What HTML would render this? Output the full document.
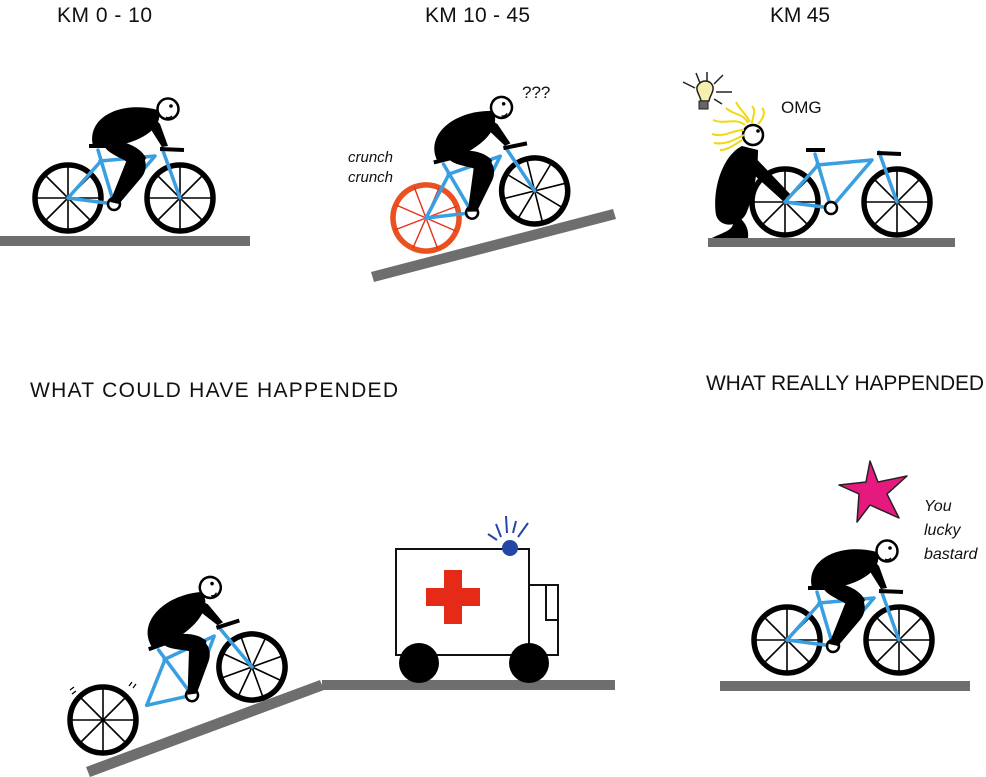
<!DOCTYPE html>
<html><head><meta charset="utf-8"><style>
html,body{margin:0;padding:0;background:#fff}
svg{display:block}
text{font-family:"Liberation Sans Narrow","Liberation Sans",sans-serif;fill:#111}
</style></head><body>
<svg width="986" height="777" viewBox="0 0 986 777" xmlns="http://www.w3.org/2000/svg">
<defs>
<g id="wheel">
 <circle cx="0" cy="0" r="33" fill="none" stroke="#000" stroke-width="5.5"/>
 <g stroke="#000" stroke-width="1.6">
  <line x1="-33" y1="0" x2="33" y2="0"/><line x1="0" y1="-33" x2="0" y2="33"/>
  <line x1="-23" y1="-23" x2="23" y2="23"/><line x1="-23" y1="23" x2="23" y2="-23"/>
 </g>
</g>
<g id="rwheel">
 <circle cx="0" cy="0" r="33" fill="none" stroke="#ea5020" stroke-width="5.5"/>
 <g stroke="#e8301c" stroke-width="1.4">
  <line x1="-33" y1="4" x2="33" y2="-4"/><line x1="-4" y1="-33" x2="4" y2="33"/>
  <line x1="-26" y1="-20" x2="26" y2="20"/><line x1="-20" y1="26" x2="20" y2="-26"/>
 </g>
</g>
<g id="frame">
 <g stroke="#3a9fe0" stroke-width="3.5" fill="none" stroke-linejoin="round" stroke-linecap="round">
  <polyline points="68,198 114,204 98,150"/>
  <line x1="68" y1="198" x2="101" y2="161"/>
  <polyline points="100,161 155,156 114,204"/>
  <polyline points="180,198 162,148"/>
 </g>
 <line x1="89" y1="146" x2="108" y2="146" stroke="#000" stroke-width="4"/>
 <line x1="160" y1="149" x2="184" y2="150" stroke="#000" stroke-width="4"/>
 <circle cx="114" cy="204" r="6" fill="#fff" stroke="#000" stroke-width="2.5"/>
</g>
<g id="rider">
 <path d="M93,146 C86,118 120,100 158,110 C164,124 148,138 124,144 C110,147 100,147 93,146 Z" fill="#000"/>
 <path d="M103,142 C120,138 140,146 146,158 C142,168 132,166 124,160 C112,154 104,150 103,142 Z" fill="#000"/>
 <path d="M136,150 C148,156 148,170 141,178 L119,204 L110,202 L126,162 Z" fill="#000"/>
 <path d="M150,114 L160,124 L168,146 L162,147 L150,128 Z" fill="#000"/>
 <circle cx="168" cy="109" r="10.5" fill="#fff" stroke="#000" stroke-width="2.5"/>
 <circle cx="171" cy="106" r="1.8" fill="#000"/>
 <path d="M166,117 q3,2 6,-1" fill="none" stroke="#000" stroke-width="1.3"/>
</g>
<g id="bike">
 <use href="#wheel" x="68" y="198"/><use href="#wheel" x="180" y="198"/>
 <use href="#frame"/><use href="#rider"/>
</g>
</defs>

<text x="57" y="22" font-size="21" textLength="95">KM 0 - 10</text>
<text x="425" y="22" font-size="21" textLength="105">KM 10 - 45</text>
<text x="770" y="22" font-size="21" textLength="60">KM 45</text>
<text x="30" y="397" font-size="21" font-family="Liberation Sans" textLength="368">WHAT COULD HAVE HAPPENDED</text>
<text x="706" y="390" font-size="21" font-family="Liberation Sans" textLength="278">WHAT REALLY HAPPENDED</text>

<rect x="0" y="236" width="250" height="10" fill="#6e6e6e"/>
<use href="#bike"/>

<polygon points="371,272 613,209 616,219 374,282" fill="#6e6e6e"/>
<g transform="translate(426,218) rotate(-14) translate(-68,-198)">
 <use href="#rwheel" x="68" y="198"/><use href="#wheel" x="180" y="198"/>
 <use href="#frame"/><use href="#rider"/>
</g>
<text x="348" y="162" font-size="15" font-style="italic" font-family="Liberation Sans">crunch</text>
<text x="348" y="182" font-size="15" font-style="italic" font-family="Liberation Sans">crunch</text>
<text x="522" y="98" font-size="17" font-family="Liberation Sans">???</text>

<rect x="708" y="238" width="247" height="9" fill="#6e6e6e"/>
<g transform="translate(717,4)">
 <use href="#wheel" x="68" y="198"/><use href="#wheel" x="180" y="198"/>
 <use href="#frame"/>
</g>
<path d="M742,146 C722,156 712,190 716,215 C720,228 738,228 746,214 C752,200 758,175 758,150 Z" fill="#000"/>
<path d="M748,150 L790,194 L783,201 L744,166 Z" fill="#000"/>
<path d="M726,210 C738,214 750,224 748,238 L712,238 C724,232 734,230 733,222 Z" fill="#000"/>
<circle cx="753" cy="135" r="10" fill="#fff" stroke="#000" stroke-width="2.5"/>
<circle cx="758" cy="131" r="1.8" fill="#000"/>
<g fill="none" stroke="#f2d80f" stroke-width="2">
 <path d="M745,125 c-10,-8 -20,0 -32,-5"/><path d="M748,123 c-5,-10 -15,-8 -22,-15"/>
 <path d="M752,124 c0,-8 5,-12 0,-18"/><path d="M744,130 c-12,0 -20,8 -32,4"/>
 <path d="M744,135 c-10,5 -18,10 -30,8"/><path d="M758,124 c5,-5 8,-12 4,-16"/>
 <path d="M742,140 c-8,5 -14,10 -22,10"/><path d="M750,122 c-4,-8 -10,-12 -14,-20"/>
</g>
<g stroke="#222" stroke-width="1.5">
 <line x1="683" y1="82" x2="695" y2="88"/><line x1="696" y1="73" x2="700" y2="83"/>
 <line x1="707" y1="72" x2="707" y2="82"/><line x1="723" y1="75" x2="714" y2="84"/>
 <line x1="716" y1="92" x2="732" y2="92"/><line x1="714" y1="99" x2="722" y2="104"/>
</g>
<path d="M697,87 c3,-8 14,-8 16,0 c1,5 -3,8 -4,14 l-8,0 c-1,-6 -5,-9 -4,-14 Z" fill="#f6f0b0" stroke="#222" stroke-width="1.5"/>
<rect x="699" y="101" width="9" height="8" fill="#666" stroke="#222" stroke-width="1"/>
<text x="781" y="113" font-size="17" font-family="Liberation Sans">OMG</text>

<polygon points="86,767 320,680 324,690 90,777" fill="#6e6e6e"/>
<rect x="322" y="680" width="293" height="10" fill="#6e6e6e"/>
<use href="#wheel" x="103" y="720"/>
<path d="M70,690 l4,-3 M72,694 l4,-3 M129,686 l3,-4 M133,688 l3,-4" stroke="#000" stroke-width="1.2"/>
<g transform="translate(252,667) rotate(-20) translate(-180,-198)">
 <use href="#wheel" x="180" y="198"/>
 <use href="#frame"/><use href="#rider"/>
</g>

<rect x="396" y="549" width="133" height="106" fill="#fff" stroke="#111" stroke-width="2"/>
<rect x="529" y="585" width="29" height="70" fill="#fff" stroke="#111" stroke-width="2"/>
<rect x="546" y="585" width="12" height="35" fill="#fff" stroke="#111" stroke-width="2"/>
<rect x="426" y="588" width="54" height="18" fill="#e52a18"/>
<rect x="444" y="570" width="18" height="54" fill="#e52a18"/>
<circle cx="419" cy="663" r="20" fill="#000"/><circle cx="529" cy="663" r="20" fill="#000"/>
<circle cx="510" cy="548" r="8" fill="#2546a6"/>
<g stroke="#2546a6" stroke-width="2">
 <line x1="488" y1="534" x2="497" y2="540"/><line x1="496" y1="524" x2="501" y2="537"/>
 <line x1="506" y1="516" x2="507" y2="533"/><line x1="516" y1="521" x2="513" y2="533"/>
 <line x1="528" y1="523" x2="518" y2="537"/>
</g>

<rect x="720" y="681" width="250" height="10" fill="#6e6e6e"/>
<g transform="translate(719,442)"><use href="#bike"/></g>
<polygon points="870,461 878,482 907,476 887,494 899,518 870,505 857,522 859,494 839,485 866,482" fill="#e6197f" stroke="#222" stroke-width="1.5" stroke-linejoin="round"/>
<text x="924" y="511" font-size="16" font-style="italic" font-family="Liberation Sans">You</text>
<text x="924" y="535" font-size="16" font-style="italic" font-family="Liberation Sans">lucky</text>
<text x="924" y="559" font-size="16" font-style="italic" font-family="Liberation Sans">bastard</text>
</svg>
</body></html>
